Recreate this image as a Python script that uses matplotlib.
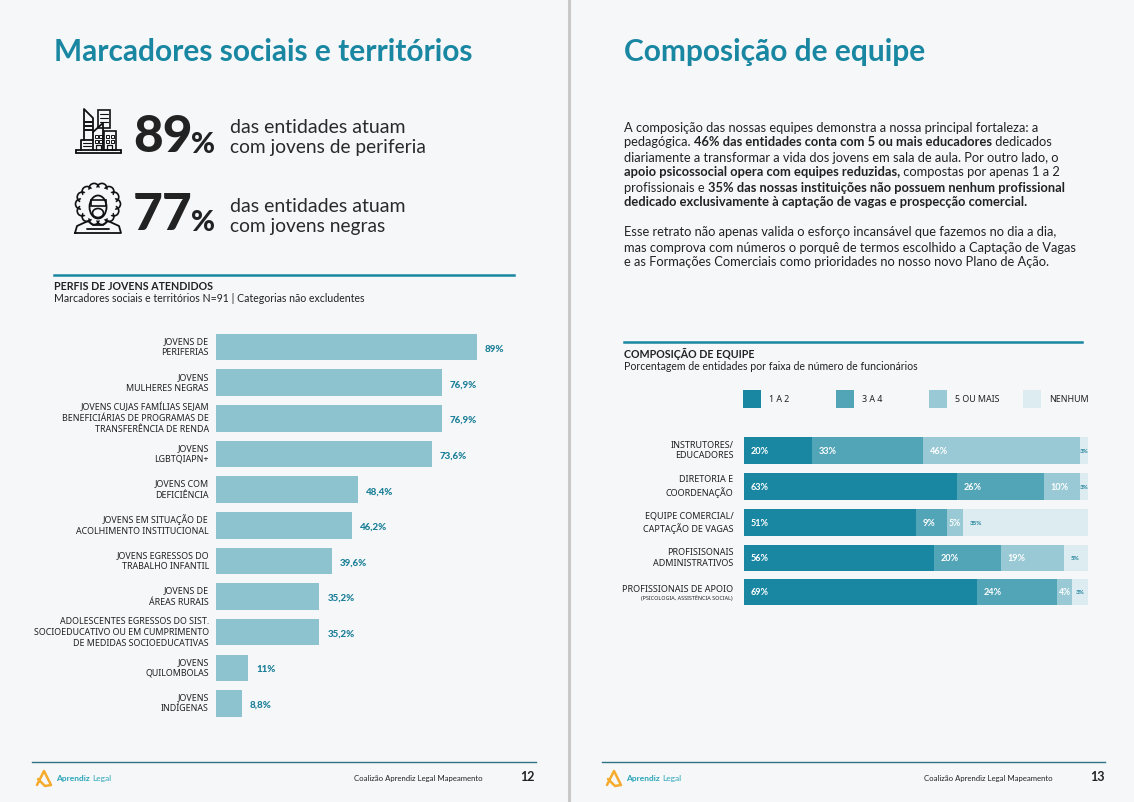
import matplotlib
matplotlib.use("Agg")
import math
import matplotlib.pyplot as plt
from matplotlib.patches import Rectangle, Circle, Ellipse

W, H = 1134, 802
BG = "#f6f7f9"
TEAL = "#1a87a2"
DARK = "#222222"
LABEL_FONT = ["Noto Sans", "DejaVu Sans"]
plt.rcParams["font.family"] = ["Lato", "DejaVu Sans"]

# Left chart data
profile_labels = [
    "JOVENS DE\nPERIFERIAS",
    "JOVENS\nMULHERES NEGRAS",
    "JOVENS CUJAS FAMÍLIAS SEJAM\nBENEFICIÁRIAS DE PROGRAMAS DE\nTRANSFERÊNCIA DE RENDA",
    "JOVENS\nLGBTQIAPN+",
    "JOVENS COM\nDEFICIÊNCIA",
    "JOVENS EM SITUAÇÃO DE\nACOLHIMENTO INSTITUCIONAL",
    "JOVENS EGRESSOS DO\nTRABALHO INFANTIL",
    "JOVENS DE\nÁREAS RURAIS",
    "ADOLESCENTES EGRESSOS DO SIST.\nSOCIOEDUCATIVO OU EM CUMPRIMENTO\nDE MEDIDAS SOCIOEDUCATIVAS",
    "JOVENS\nQUILOMBOLAS",
    "JOVENS\nINDÍGENAS",
]
profile_values = [89, 76.9, 76.9, 73.6, 48.4, 46.2, 39.6, 35.2, 35.2, 11, 8.8]
profile_text = ["89%", "76,9%", "76,9%", "73,6%", "48,4%", "46,2%", "39,6%", "35,2%", "35,2%", "11%", "8,8%"]

# Right chart data
team_labels = [
    "INSTRUTORES/\nEDUCADORES",
    "DIRETORIA E\nCOORDENAÇÃO",
    "EQUIPE COMERCIAL/\nCAPTAÇÃO DE VAGAS",
    "PROFISISONAIS\nADMINISTRATIVOS",
    "PROFISSIONAIS DE APOIO",
]
team_names = ["1 A 2", "3 A 4", "5 OU MAIS", "NENHUM"]
team_colors = ["#1a87a2", "#52a4b7", "#98c9d4", "#ddecf1"]
one_two = [19.8, 62, 50, 55.2, 67.7]
three_four = [32.3, 25.3, 9, 19.5, 23.3]
five_plus = [45.6, 10.5, 4.7, 18.3, 4.4]
none_at_all = [2.3, 2.2, 36.3, 7, 4.6]
one_two_text = ["20%", "63%", "51%", "56%", "69%"]
three_four_text = ["33%", "26%", "9%", "20%", "24%"]
five_plus_text = ["46%", "10%", "5%", "19%", "4%"]
none_text = ["3%", "3%", "35%", "5%", "3%"]
row_centers = [450.5, 486.5, 522.5, 558, 592]
row_heights = [27, 27, 27, 26, 26]

body_lines = [
    [("A composição das nossas equipes demonstra a nossa principal fortaleza: a", False)],
    [("pedagógica. ", False), ("46% das entidades conta com 5 ou mais educadores", True), (" dedicados", False)],
    [("diariamente a transformar a vida dos jovens em sala de aula. Por outro lado, o", False)],
    [("apoio psicossocial opera com equipes reduzidas,", True), (" compostas por apenas 1 a 2", False)],
    [("profissionais e ", False), ("35% das nossas instituições não possuem nenhum profissional", True)],
    [("dedicado exclusivamente à captação de vagas e prospecção comercial.", True)],
    [],
    [("Esse retrato não apenas valida o esforço incansável que fazemos no dia a dia,", False)],
    [("mas comprova com números o porquê de termos escolhido a Captação de Vagas", False)],
    [("e as Formações Comerciais como prioridades no nosso novo Plano de Ação.", False)],
]

fig = plt.figure(figsize=(W / 100, H / 100), dpi=100, facecolor=BG)
page = fig.add_axes([0, 0, 1, 1])
page.set_xlim(0, W)
page.set_ylim(H, 0)
page.axis("off")


def px_axes(x0, y0, x1, y1):
    ax = fig.add_axes([x0 / W, 1 - y1 / H, (x1 - x0) / W, (y1 - y0) / H])
    ax.patch.set_alpha(0)
    ax.axis("off")
    return ax


def txt(x, y, s, size, color=DARK, weight="normal", ha="left", va="center", **kw):
    return page.text(x, y, s, fontsize=size, color=color, fontweight=weight, ha=ha, va=va, **kw)


def seg(points, lw=1.3, color="#111111"):
    xs, ys = zip(*points)
    page.plot(xs, ys, color=color, lw=lw, solid_capstyle="round", solid_joinstyle="round")


def box(x, y, w, h, lw=1.2, fc="none"):
    page.add_patch(Rectangle((x, y), w, h, fc=fc, ec="#111111", lw=lw))


# page divider and frames
page.plot([569, 569], [0, H], color="#c9c9c9", lw=2.2)
for x0, x1 in [(32, 536), (602, 1105)]:
    page.plot([x0, x1], [761.5, 761.5], color="#2d7383", lw=1)

# titles
txt(54, 52, "Marcadores sociais e territórios", 21.5, TEAL, "bold")
txt(624, 52, "Composição de equipe", 21.5, TEAL, "bold")

# buildings icon
seg([(76, 153), (121, 153)])
seg([(76, 150), (121, 150)])
seg([(76, 153), (76, 150)])
seg([(121, 153), (121, 150)])
seg([(81, 150), (81, 140), (93, 140)])
seg([(84, 140), (84, 109), (93, 118), (93, 150)])
box(98, 110, 12, 18)
seg([(93, 132), (103, 123), (103, 150)])
box(104, 131, 12, 19)
for yy in [114, 118, 122]:
    seg([(100, yy), (108, yy)], lw=0.8)
for yy in [122, 126, 130]:
    seg([(85, yy), (92, yy)], lw=1.4)
for yy in [143, 146]:
    seg([(83, yy), (91, yy)], lw=0.8)
for bx in [95, 99, 106, 111]:
    for by in [135, 140]:
        box(bx, by, 2.5, 2.5, lw=0.7)
seg([(96, 150), (96, 145), (101, 145), (101, 150)], lw=0.9)
seg([(107, 150), (107, 145), (112, 145), (112, 150)], lw=0.9)

# person icon, hair drawn as a ring of small curls
for k in range(14):
    a = 2 * math.pi * k / 14
    page.add_patch(Circle((98 + 17.5 * math.cos(a), 204 + 16 * math.sin(a)), 5,
                          fc="none", ec="#111111", lw=1.2))
page.add_patch(Ellipse((98, 204), 36, 33, fc=BG, ec="none", zorder=3))
page.add_patch(Ellipse((98, 207), 17, 23, fc=BG, ec="#111111", lw=1.3, zorder=4))
page.add_patch(Rectangle((90.5, 200), 15, 6, fc="none", ec="#111111", lw=1.2, zorder=5))
page.add_patch(Ellipse((98, 213), 11, 9, fc="none", ec="#111111", lw=1.2, zorder=5))
seg([(75, 233), (77, 226), (88, 221), (93, 225), (103, 225), (108, 221), (119, 226), (121, 233), (75, 233)])
seg([(87, 229), (109, 229)])

# big figures
txt(133, 138, "89", 37, DARK, 900)
txt(191, 145, "%", 21, DARK, 900)
txt(133, 216, "77", 37, DARK, 900)
txt(191, 223, "%", 21, DARK, 900)
txt(230, 127.5, "das entidades atuam", 14, "#2a2a2a")
txt(230, 147.5, "com jovens de periferia", 13.8, "#2a2a2a")
txt(230, 206.5, "das entidades atuam", 14, "#2a2a2a")
txt(230, 226.5, "com jovens negras", 13.8, "#2a2a2a")

# left chart header
page.plot([54, 514], [275, 275], color=TEAL, lw=1.8)
txt(54, 287, "PERFIS DE JOVENS ATENDIDOS", 7.7, DARK, "bold")
txt(54, 299, "Marcadores sociais e territórios N=91 | Categorias não excludentes", 7.6, DARK)

# left chart
ax_left = px_axes(216, 329, 216 + 293.3, 722)
y_pos = list(range(len(profile_values)))
ax_left.barh(y_pos, profile_values, height=0.745, color="#8dc2cf")
ax_left.set_xlim(0, 100)
ax_left.set_ylim(10.52, -0.505)
for i, v in enumerate(profile_values):
    ax_left.annotate(profile_text[i], (v, i), xytext=(5.8, -1.5), textcoords="offset points",
                     va="center", ha="left", fontsize=7, color="#1b7f98", fontweight=900)
    ax_left.annotate(profile_labels[i], (0, i), xytext=(-5.2, 0), textcoords="offset points",
                     va="center", ha="right", fontsize=6.4, color=DARK, linespacing=1.28,
                     annotation_clip=False, family=LABEL_FONT)

# right body text
fig.canvas.draw()
renderer = fig.canvas.get_renderer()
for n, line in enumerate(body_lines):
    x = 624
    for part, bold in line:
        t = txt(x, 127.5 + n * 15, part, 9.25, DARK, "bold" if bold else "normal")
        # spaces at the ends of a run are measured with a stand-in
        probe = txt(x, 127, part.replace(" ", "\u00a0"), 9.25, DARK, "bold" if bold else "normal")
        x += probe.get_window_extent(renderer).width
        probe.remove()

# right chart header
page.plot([624, 1082], [342, 342], color=TEAL, lw=1.8)
txt(624, 354, "COMPOSIÇÃO DE EQUIPE", 7.7, DARK, "bold")
txt(624, 366, "Porcentagem de entidades por faixa de número de funcionários", 7.6, DARK)

# legend
for x, name, c in zip([743, 836, 929, 1023], team_names, team_colors):
    page.add_patch(Rectangle((x, 390), 18, 18, fc=c, ec="none"))
    txt(x + 26, 399.5, name, 6.4, DARK, family=LABEL_FONT)

# right chart
ax_right = px_axes(744, 430, 1088, 612)
ax_right.set_xlim(0, 100)
ax_right.set_ylim(612, 430)
series = [one_two, three_four, five_plus, none_at_all]
texts = [one_two_text, three_four_text, five_plus_text, none_text]
lefts = [0.0] * len(team_labels)
for k, vals in enumerate(series):
    ax_right.barh(row_centers, vals, left=lefts, height=row_heights, color=team_colors[k])
    for i, v in enumerate(vals):
        small = k == 3
        if v < 6:
            # narrow segment: label sits centred on it
            ax_right.annotate(texts[k][i], (lefts[i] + v / 2, row_centers[i]), xytext=(0, -0.5),
                              textcoords="offset points", va="center", ha="center",
                              fontsize=4.5 if small else 6.2, fontweight="bold",
                              color="#1b7f98" if small else "white")
        else:
            ax_right.annotate(texts[k][i], (lefts[i], row_centers[i]), xytext=(4.7, -0.5),
                              textcoords="offset points", va="center", ha="left",
                              fontsize=4.5 if small else 6.6, fontweight="bold",
                              color="#1b7f98" if small else "white")
    lefts = [a + b for a, b in zip(lefts, vals)]
for i, lab in enumerate(team_labels):
    dy = 1.8 if i == 4 else 0
    ax_right.annotate(lab, (0, row_centers[i]), xytext=(-7.5, dy), textcoords="offset points",
                      va="center", ha="right", fontsize=6.5, color=DARK, linespacing=1.28,
                      annotation_clip=False, family=LABEL_FONT)
txt(733, 598, "(PSICOLOGIA, ASSISTÊNCIA SOCIAL)", 3.9, DARK, ha="right", family=LABEL_FONT)

# footers
for dx, num in [(0, "12"), (570, "13")]:
    seg([(37 + dx, 785), (44 + dx, 771), (51 + dx, 785), (45 + dx, 786), (38 + dx, 779)], lw=1.8, color="#f5ab2e")
    page.text(56 + dx, 778, "Aprendiz", fontsize=6, color="#2aa5b8", fontweight="bold", va="center")
    page.text(92 + dx, 778, "Legal", fontsize=6, color="#2aa5b8", va="center")
    txt(482.5 + dx, 779, "Coalizão Aprendiz Legal Mapeamento", 5.6, DARK, ha="right")
    txt(535 + dx, 777, num, 9, DARK, "bold", ha="right")

fig.savefig("out.png", dpi=100, facecolor=BG)
